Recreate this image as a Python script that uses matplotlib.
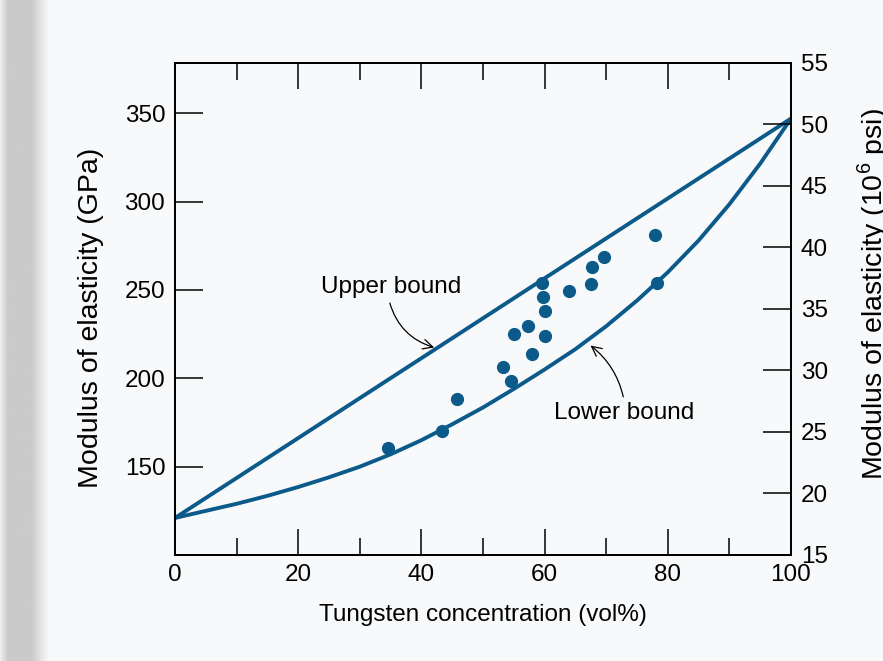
import matplotlib
matplotlib.use("Agg")
import matplotlib.pyplot as plt
import numpy as np

plt.rcParams['font.family'] = ['Liberation Sans', 'DejaVu Sans']
plt.rcParams['mathtext.fontset'] = 'custom'
plt.rcParams['mathtext.rm'] = 'Liberation Sans'

# measured composites (tungsten vol%, modulus GPa)
w_conc = [34.6, 43.3, 45.7, 53.2, 54.6, 55.1, 57.3, 58.0, 59.6,
          59.8, 60.1, 60.1, 64.0, 67.6, 67.7, 69.6, 78.0, 78.3]
modulus = [160.4, 170.4, 188.3, 206.6, 198.7, 225.1, 229.6, 213.6, 253.8,
           245.9, 238.1, 224.0, 249.6, 253.4, 263.2, 268.8, 281.1, 253.8]

# bound curves
upper_x = [0, 100]
upper_E = [121, 347]
lower_x = [0, 5, 10, 15, 20, 25, 30, 35, 40, 45, 50,
           55, 60, 65, 70, 75, 80, 85, 90, 95, 100]
lower_E = [121, 125, 129, 133.5, 138.5, 144, 150, 157, 165, 174, 183.5,
           194, 205, 216.5, 229.5, 244, 260, 278, 298.5, 321.5, 347]

x_ticks = [0, 20, 40, 60, 80, 100]
x_minor = [10, 30, 50, 70, 90]
gpa_ticks = [150, 200, 250, 300, 350]
psi_ticks = [15, 20, 25, 30, 35, 40, 45, 50, 55]

blue = '#0b5a8a'
fs = 17.5
fs_y = 20.5

fig = plt.figure(figsize=(8.83, 6.61), dpi=100, facecolor='#f8f9fb')

# grey strip of the scanned page on the left edge
strip = fig.add_axes([0, 0, 0.055, 1])
grad = np.concatenate([np.linspace(0.93, 0.80, 8), np.full(22, 0.79),
                       np.linspace(0.79, 0.97, 18)])
strip.imshow(grad[np.newaxis, :], cmap='gray', vmin=0, vmax=1,
             aspect='auto', extent=[0, 1, 0, 1])
strip.axis('off')

ax = fig.add_axes([0.1982, 0.1611, 0.6976, 0.7443])
ax.set_facecolor('#f8f9fb')

ax.plot(upper_x, upper_E, color=blue, lw=2.8, solid_capstyle='round')
ax.plot(lower_x, lower_E, color=blue, lw=2.8, solid_capstyle='round',
        solid_joinstyle='round')
ax.plot(w_conc, modulus, 'o', color=blue, ms=8.5, mec=blue)

ax.set_xlim(0, 100)
ax.set_ylim(100.3, 378.7)
ax.set_xticks(x_ticks)
ax.set_xticks(x_minor, minor=True)
ax.set_yticks(gpa_ticks)
ax.tick_params(axis='x', which='major', direction='in', length=19, width=1.1,
               top=True, labelsize=fs, pad=7)
ax.tick_params(axis='x', which='minor', direction='in', length=12, width=1.1,
               top=True)
ax.tick_params(axis='y', which='major', direction='in', length=20, width=1.1,
               labelsize=fs, pad=7)
for s in ax.spines.values():
    s.set_linewidth(1.4)

ax.set_xlabel('Tungsten concentration (vol%)', fontsize=fs, labelpad=13)
ax.set_ylabel('Modulus of elasticity (GPa)', fontsize=fs_y)
ax.yaxis.set_label_coords(-0.115, 0.48)

ax2 = ax.twinx()
ax2.set_ylim(15, 55)
ax2.set_yticks(psi_ticks)
ax2.tick_params(axis='y', direction='in', length=20, width=1.1,
                labelsize=fs, pad=7)
ax2.set_ylabel('Modulus of elasticity (10$^{\\mathrm{6}}$ psi)', fontsize=fs_y)
ax2.yaxis.set_label_coords(1.104, 0.53)
for s in ax2.spines.values():
    s.set_linewidth(1.4)

ax.annotate('Upper bound', xy=(42.5, 217.0), xytext=(35.1, 251.9),
            fontsize=fs, ha='center', va='center',
            arrowprops=dict(arrowstyle='->', color='black', lw=0.9,
                            connectionstyle='arc3,rad=0.3', relpos=(0.48, 0)))
ax.annotate('Lower bound', xy=(67.1, 219.5), xytext=(72.95, 180.2),
            fontsize=fs, ha='center', va='center',
            arrowprops=dict(arrowstyle='->', color='black', lw=0.9,
                            connectionstyle='arc3,rad=0.2', relpos=(0.5, 1)))

fig.savefig('out.png', dpi=100, facecolor=fig.get_facecolor())
